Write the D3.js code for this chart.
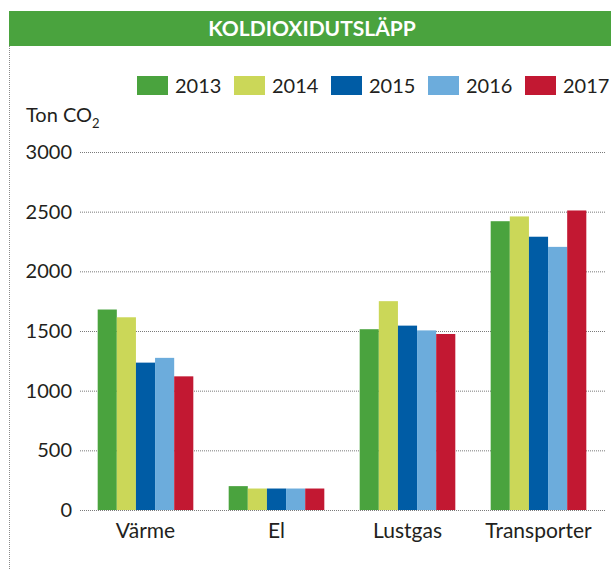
<!DOCTYPE html>
<html>
<head>
<meta charset="utf-8">
<script src="https://cdn.jsdelivr.net/npm/d3@7"></script>
<style>
  body { margin: 0; background: #fff; }
  svg { display: block; font-family: Lato, "Open Sans", sans-serif; }
  .grid line { stroke: #7a7a7a; stroke-dasharray: 1,1; }
  .grid .domain { display: none; }
</style>
</head>
<body>
<svg id="chart" width="611" height="569"></svg>
<script>
// data
const categories = ["Värme", "El", "Lustgas", "Transporter"];
const years = ["2013", "2014", "2015", "2016", "2017"];
const values2013 = [1680, 200, 1515, 2420];
const values2014 = [1615, 180, 1750, 2460];
const values2015 = [1235, 180, 1545, 2290];
const values2016 = [1275, 180, 1505, 2205];
const values2017 = [1120, 180, 1475, 2510];
const yTicks = [0, 500, 1000, 1500, 2000, 2500, 3000];

const series = [values2013, values2014, values2015, values2016, values2017];
const colors = ["#4aa33e", "#cbd758", "#005ca5", "#6cacdc", "#c21832"];

const svg = d3.select("#chart");

// title bar
svg.append("rect")
  .attr("x", 9).attr("y", 11)
  .attr("width", 602).attr("height", 35)
  .attr("fill", "#4aa33e");

svg.append("text")
  .attr("x", 312).attr("y", 36)
  .attr("text-anchor", "middle")
  .attr("fill", "#fff")
  .attr("font-weight", "bold")
  .style("font-size", "21px")
  .text("KOLDIOXIDUTSLÄPP");

// dotted left border
svg.append("line")
  .attr("x1", 9.5).attr("x2", 9.5)
  .attr("y1", 46).attr("y2", 569)
  .attr("stroke", "#8a8a8a")
  .attr("stroke-dasharray", "1,1");

let x0 = d3.scaleBand().domain(categories).range([80, 604]).paddingInner(0.27).paddingOuter(0.135);
let x1 = d3.scaleBand().domain(years).range([0, x0.bandwidth()]);
let y = d3.scaleLinear().domain([0, 3000]).range([510, 152]);

// gridlines
svg.append("g")
  .attr("class", "grid")
  .attr("transform", "translate(80,0)")
  .call(d3.axisRight(y).tickValues(yTicks).tickSize(526).tickFormat(""));

// y tick labels
svg.selectAll(".ylab")
  .data(yTicks)
  .enter()
  .append("text")
  .attr("class", "ylab")
  .attr("x", 72)
  .attr("y", d => y(d) + 7)
  .attr("text-anchor", "end")
  .attr("fill", "#231f20")
  .style("font-size", "20px")
  .text(d => d);

// unit label
const unit = svg.append("text")
  .attr("x", 26).attr("y", 122)
  .attr("fill", "#231f20")
  .style("font-size", "20px");
unit.append("tspan").text("Ton CO");
unit.append("tspan").attr("dy", 6).style("font-size", "13px").text("2");

// bars
const groups = svg.selectAll(".cat")
  .data(categories)
  .enter()
  .append("g")
  .attr("class", "cat")
  .attr("transform", d => "translate(" + x0(d) + ",0)");

groups.selectAll("rect")
  .data((d, i) => years.map((yr, j) => ({ year: yr, value: series[j][i], color: colors[j] })))
  .enter()
  .append("rect")
  .attr("x", d => x1(d.year))
  .attr("y", d => y(d.value))
  .attr("width", x1.bandwidth())
  .attr("height", d => y(0) - y(d.value))
  .attr("fill", d => d.color);

// category labels
svg.selectAll(".xlab")
  .data(categories)
  .enter()
  .append("text")
  .attr("class", "xlab")
  .attr("x", d => x0(d) + x0.bandwidth() / 2)
  .attr("y", 538)
  .attr("text-anchor", "middle")
  .attr("fill", "#231f20")
  .style("font-size", "21px")
  .text(d => d);

// legend
const legend = svg.selectAll(".leg")
  .data(years)
  .enter()
  .append("g")
  .attr("class", "leg")
  .attr("transform", (d, i) => "translate(" + (137 + i * 97) + ",76)");

legend.append("rect")
  .attr("width", 31).attr("height", 19)
  .attr("fill", (d, i) => colors[i]);

legend.append("text")
  .attr("x", 38).attr("y", 17)
  .attr("fill", "#231f20")
  .style("font-size", "20px")
  .text(d => d);
</script>
</body>
</html>
